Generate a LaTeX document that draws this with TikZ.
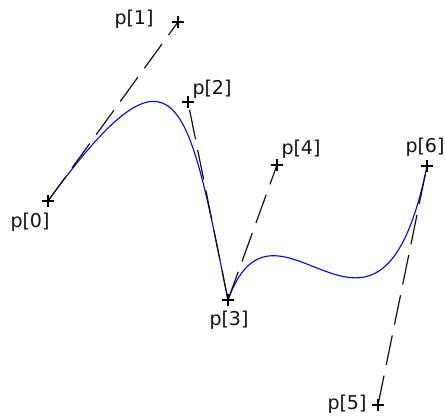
\documentclass[tikz,border=0pt]{standalone}
\usepackage{fontspec}
\setmainfont{DejaVu Sans}
\usepackage{tikz}
\usetikzlibrary{positioning}
\definecolor{curveblue}{HTML}{0000FF}
\definecolor{tangentdark}{HTML}{111111}
\tikzset{
  ctrlpt/.style={inner sep=0pt, minimum size=0pt},
  ptlabel/.style={font=\fontsize{19}{19}\selectfont, text=tangentdark, inner sep=0pt},
  tangent/.style={draw=tangentdark, line width=1.2pt, dash pattern=on 30pt off 11pt},
  bezier/.style={draw=curveblue, line width=1.1pt},
  crossmark/.style={draw=black, line width=1.2pt},
}

\begin{document}
\begin{tikzpicture}[x=1pt, y=-1pt]
  \useasboundingbox (0,0) rectangle (445,419);
  % control points
  \node[ctrlpt] (p0) at (48,201) {};
  \node[ctrlpt] (p1) at (178,22) {};
  \node[ctrlpt] (p2) at (188,102) {};
  \node[ctrlpt] (p3) at (228,300) {};
  \node[ctrlpt] (p4) at (277,165) {};
  \node[ctrlpt] (p5) at (378,405) {};
  \node[ctrlpt] (p6) at (427,166) {};

  \draw[bezier] (p0.center) .. controls (p1.center) and (p2.center) .. (p3.center)
    .. controls (p4.center) and (p5.center) .. (p6.center);

  \draw[tangent] (p0.center) -- (p1.center);
  \draw[tangent] (p3.center) -- (p2.center);
  \draw[tangent] (p3.center) -- (p4.center);
  \draw[tangent] (p5.center) -- (p6.center);

  \foreach \i in {0,...,6}
    \draw[crossmark] (p\i.center) +(-6,0) -- +(6,0) +(0,-6) -- +(0,6);

  \node[ptlabel] (l0) at (30,222) {p[0]};
  \node[ptlabel] (l1) at (134,19) {p[1]};
  \node[ptlabel] (l2) at (212,89) {p[2]};
  \node[ptlabel] (l3) at (229,320) {p[3]};
  \node[ptlabel] (l4) at (301,149) {p[4]};
  \node[ptlabel] (l5) at (347,404) {p[5]};
  \node[ptlabel] (l6) at (425,147) {p[6]};
\end{tikzpicture}
\end{document}
